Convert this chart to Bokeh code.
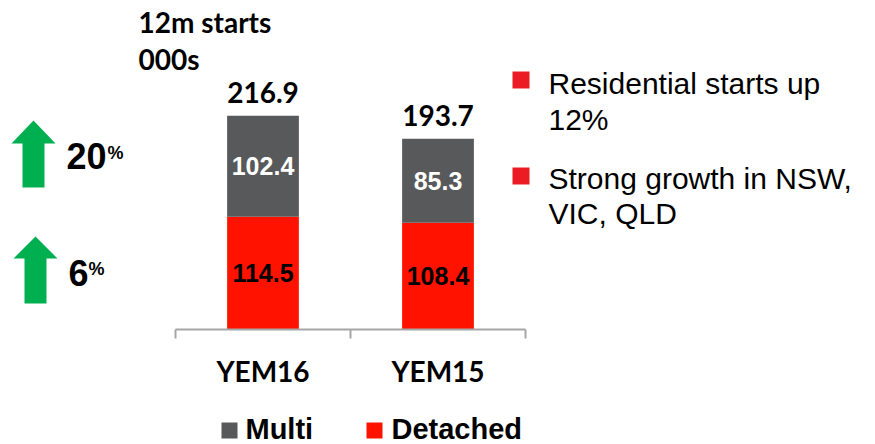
from bokeh.plotting import figure
from bokeh.models import (ColumnDataSource, Range1d, FactorRange, Label, PolyAnnotation)
from bokeh.transform import dodge
from bokeh.core.properties import value
from bokeh.embed import file_html
from bokeh.resources import INLINE

# ---------------- data ----------------
periods = ["YEM16", "YEM15"]
detached = [114.5, 108.4]
multi = [102.4, 85.3]
totals = [216.9, 193.7]
growth_pct = [20, 6]            # Multi growth, Detached growth
title_lines = ["12m starts", "000s"]
bullet_1 = ["Residential starts up", "12%"]
bullet_2 = ["Strong growth in NSW,", "VIC, QLD"]
series_names = ["Multi", "Detached"]

# ---------------- style ----------------
MULTI_C = "#58595B"
DET_C = "#FF1200"
GREEN = "#00B050"
BULLET_C = "#EC1C24"
AXIS_C = "#A6A6A6"
CAL = "Lato"
ARIAL = "Liberation Sans"

W, H = 875, 444
S = 0.985                 # pixels per thousand starts
ZERO = 329                # pixel row of value 0

# blank spacer factors keep the two bars in the middle of a full-canvas frame
factors = [" "] + periods + ["  ", "   "]
p = figure(width=W, height=H, x_range=FactorRange(*factors),
           y_range=Range1d(-(H - ZERO) / S, ZERO / S),
           output_backend="svg", toolbar_location=None,
           x_axis_location=None, y_axis_location=None,
           min_border_left=0, min_border_right=0, min_border_top=0, min_border_bottom=0)
p.outline_line_color = None
p.grid.grid_line_color = None
p.background_fill_color = "white"
p.border_fill_color = "white"

def yd(py):
    """pixel row -> data value on the y range"""
    return (ZERO - py) / S

src = ColumnDataSource(dict(
    period=periods, Detached=detached, Multi=multi, total=totals,
    det_mid=[d / 2 for d in detached],
    multi_mid=[d + m / 2 for d, m in zip(detached, multi)],
    det_txt=[f"{d:.1f}" for d in detached],
    multi_txt=[f"{m:.1f}" for m in multi],
    total_txt=[f"{t:.1f}" for t in totals],
    label_y=[yd(370.5)] * len(periods),
))

rs = p.vbar_stack(["Detached", "Multi"], x="period", width=0.41,
                  color=[DET_C, MULTI_C], line_color=None, source=src)

p.text(x="period", y="det_mid", text="det_txt", source=src, text_font=value(ARIAL),
       text_font_style="bold", text_font_size="25px", text_color="black",
       text_align="center", text_baseline="middle")
p.text(x="period", y="multi_mid", text="multi_txt", source=src, text_font=value(ARIAL),
       text_font_style="bold", text_font_size="25px", text_color="white",
       text_align="center", text_baseline="middle")
p.text(x="period", y="total", text="total_txt", source=src, text_font=value(CAL),
       text_font_style="bold", text_font_size="28px", text_color="black",
       text_align="center", text_baseline="middle", y_offset=-23)

# category axis: base line, ticks between categories, labels
last = ColumnDataSource(dict(period=[periods[-1]]))
axis_src = ColumnDataSource(dict(a=[periods[0]], b=[periods[-1]]))
p.segment(x0=dodge("a", -0.5, range=p.x_range), y0=0,
          x1=dodge("b", 0.5, range=p.x_range), y1=0,
          source=axis_src, line_color=AXIS_C, line_width=2)
p.segment(x0=dodge("period", -0.5, range=p.x_range), y0=0,
          x1=dodge("period", -0.5, range=p.x_range), y1=-9 / S,
          source=src, line_color=AXIS_C, line_width=2)
p.segment(x0=dodge("period", 0.5, range=p.x_range), y0=0,
          x1=dodge("period", 0.5, range=p.x_range), y1=-9 / S,
          source=last, line_color=AXIS_C, line_width=2)
p.text(x="period", y="label_y", text="period", source=src, text_font=value(CAL),
       text_font_style="bold", text_font_size="28px", text_color="black",
       text_align="center", text_baseline="middle")

def lab(x, y, text, font, size, style="bold", color="black"):
    """x: pixel column of text start, y: pixel row of text middle"""
    p.add_layout(Label(x=x, y=yd(y), x_units="screen", text=text,
                       text_font=font, text_font_size=size, text_font_style=style,
                       text_color=color, text_align="left", text_baseline="middle"))

def poly(xs, ys, color):
    p.add_layout(PolyAnnotation(xs=list(xs), ys=[yd(y) for y in ys],
                                xs_units="screen", fill_color=color, fill_alpha=1,
                                line_color=None))

def arrow(tip_x, tip_y, hl, hr, sl, sr, base_y, bottom):
    poly([tip_x, hr, sr, sr, sl, sl, hl],
         [tip_y, base_y, base_y, bottom, bottom, base_y, base_y], GREEN)

def square(x0, y0, size, color):
    poly([x0, x0 + size, x0 + size, x0], [y0, y0, y0 + size, y0 + size], color)

# title
lab(138, 21, title_lines[0], CAL, "28px")
lab(138, 58.5, title_lines[1], CAL, "28px")

# green arrows and growth labels
arrow(33, 120, 11, 55, 22, 44, 143, 187)
arrow(35, 236, 13, 57, 24, 46, 258, 303)
lab(66, 155, str(growth_pct[0]), ARIAL, "36px")
lab(107, 152.5, "%", ARIAL, "18px")
lab(68, 272.5, str(growth_pct[1]), ARIAL, "36px")
lab(88, 268.5, "%", ARIAL, "18px")

# bullets
square(512, 71, 17, BULLET_C)
square(512, 167, 17, BULLET_C)
lab(548, 82.5, bullet_1[0], ARIAL, "30px", style="normal")
lab(548, 118.5, bullet_1[1], ARIAL, "30px", style="normal")
lab(548, 178, bullet_2[0], ARIAL, "30px", style="normal")
lab(548, 213, bullet_2[1], ARIAL, "30px", style="normal")

# legend (square swatch + label for each series)
square(221, 422, 16, MULTI_C)
lab(245, 428.5, series_names[0], ARIAL, "29px")
square(366, 422, 16, DET_C)
lab(391, 428.5, series_names[1], ARIAL, "29px")

open("out.html", "w").write(file_html(p, INLINE))
